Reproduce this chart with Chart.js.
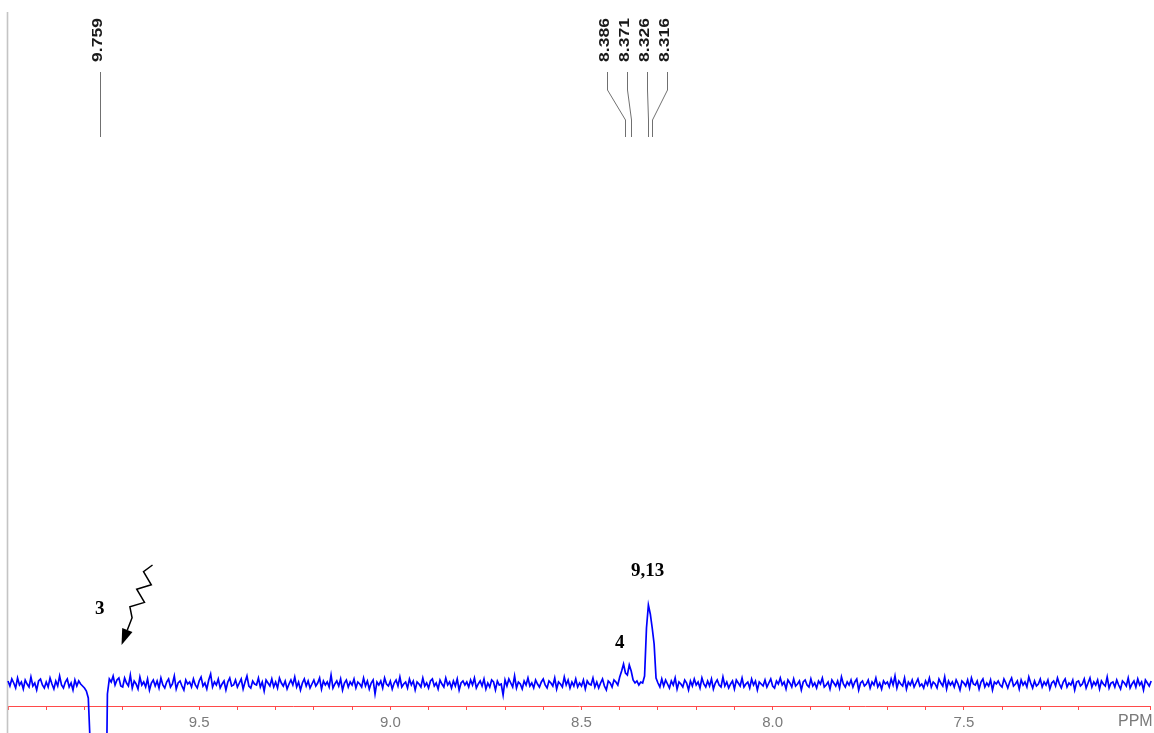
<!DOCTYPE html>
<html>
<head>
<meta charset="utf-8">
<script src="https://cdn.jsdelivr.net/npm/chart.js@4.4.1/dist/chart.umd.min.js"></script>
<style>
  html, body { margin: 0; padding: 0; background: #ffffff; }
  #wrap { width: 1154px; height: 733px; }
</style>
</head>
<body>
<div id="wrap"><canvas id="spectrum" width="1154" height="733"></canvas></div>
<script>
// 1H NMR spectrum, 10.0 -> 7.0 ppm window, digitised every 0.005 ppm
const shiftStart = 10.0;
const shiftStep = 0.005;

const intensity = [
  3,-2,5,1,-4,6,-1,2,-5,4,0,-3,7,-2,1,-6,3,5,-1,-4,
  2,-3,6,0,-5,3,-2,8,-1,-4,2,5,-3,1,-6,4,-2,3,0,-2,
  -4,-7,-14,-60,-260,-300,-320,-330,-330,-320,-290,-180,-10,5,2,8,-1,4,6,-2,
  -3,6,1,-2,9,-4,3,0,-5,7,-1,2,-3,5,-6,1,4,-2,3,-4,
  6,-1,-4,2,5,-3,0,8,-5,1,3,-2,-6,4,0,2,-3,5,-1,-4,
  3,7,-2,1,-5,4,10,-3,2,-1,5,-4,0,3,-6,2,6,-2,-1,4,
  -3,1,5,-5,2,8,-2,-4,3,0,-1,6,-3,2,-7,4,1,-2,5,-3,
  2,-4,6,1,-2,3,-5,0,4,-1,7,-3,2,-6,1,5,-2,3,-4,0,
  4,-2,1,6,-5,3,-1,2,-3,9,-4,0,3,-2,5,-6,1,4,-3,2,
  -1,5,-4,2,0,-3,6,-2,3,-5,1,4,-10,2,-1,3,-4,6,0,-2,
  3,-5,1,4,-2,7,-3,0,2,-4,5,-1,3,-6,2,0,-3,6,-2,1,
  -4,3,5,-2,1,-5,4,0,-3,6,-1,2,-4,3,-2,5,-6,1,3,-1,
  2,-3,4,-1,6,-4,0,3,-2,5,-5,1,-3,4,2,-6,3,-1,0,-11,
  4,-2,5,1,-3,8,-4,2,0,-5,3,-1,6,-2,1,-4,4,0,-3,2,
  5,-1,-4,3,1,-2,6,-5,2,0,-3,7,-1,4,-4,2,-2,5,-3,1,
  -2,4,-5,3,0,-1,6,-3,2,-4,1,5,-2,-6,3,1,-3,4,2,-1,
  7,13,20,11,9,19,13,4,1,3,-1,2,1,8,56,79,70,56,40,6,
  1,-3,5,-2,4,0,-4,3,-1,6,-5,2,0,-3,4,1,-6,3,-2,5,
  -1,2,-4,6,0,-3,3,-2,5,-5,1,4,-1,-3,7,-2,2,-4,0,3,
  -5,4,1,-2,6,-3,0,2,-4,5,-1,3,-6,2,0,-2,4,-3,1,5,
  -2,-4,3,0,6,-1,2,-5,4,1,-3,5,-2,0,3,-6,2,4,-1,-3,
  5,-2,1,-4,3,0,6,-3,-1,2,-5,4,1,-2,3,-4,7,0,-3,2,
  -1,4,-3,2,5,-6,1,3,-2,0,4,-4,2,-1,6,-3,1,-5,3,0,
  2,-3,5,-1,8,-4,3,0,-2,6,-5,2,-1,4,-3,1,5,-2,0,-4,
  3,-1,6,-3,2,0,-4,5,1,-2,7,-5,3,-1,2,-3,4,0,-6,3,
  1,-2,4,-4,6,0,-1,3,-5,2,5,-3,1,-2,4,-6,2,0,3,-1,
  -3,5,1,-4,2,6,-2,0,3,-5,4,-1,2,-3,7,1,-4,3,-2,0,
  5,-3,2,-1,4,-5,1,3,-2,6,0,-4,2,5,-3,1,-1,4,-6,2,
  3,-2,0,5,-4,1,6,-3,2,-1,4,-5,3,0,-2,7,-4,1,2,-3,
  4,-1,-5,3,1,-2,6,-4,0,3,-3,5,-1,2,-6,4,1,-2,3
];

// labelled chemical-shift ticks
const labelledTicks = [9.5, 9.0, 8.5, 8.0, 7.5];

// picked peaks (ppm) and how they are grouped under the top labels
const peakShifts = [9.759, 8.386, 8.371, 8.326, 8.316];
const peakGroups = [[0], [1, 2, 3, 4]];

// proton assignments: text, position (ppm, intensity)
const assignText = ['3', '4', '9,13'];
const assignShift = [9.760, 8.400, 8.327];
const assignHeight = [75, 41, 113];

// irradiation arrow pointing at the suppressed signal (ppm, intensity)
const arrowTail = [9.622, 119];
const arrowTip = [9.703, 39];

const points = intensity.map((v, i) => ({
  x: +(shiftStart - i * shiftStep).toFixed(3),
  y: v
}));

// left frame line of the plot window
const frameLine = {
  id: 'frameLine',
  beforeDatasetsDraw(chart) {
    const { ctx, chartArea } = chart;
    ctx.save();
    ctx.strokeStyle = '#c4c4c4';
    ctx.lineWidth = 1.6;
    ctx.beginPath();
    ctx.moveTo(chartArea.left - 0.5, chartArea.top);
    ctx.lineTo(chartArea.left - 0.5, chart.height);
    ctx.stroke();
    ctx.restore();
  }
};

// peak-pick labels across the top with their leader lines
const peakLabels = {
  id: 'peakLabels',
  afterDraw(chart) {
    const { ctx, chartArea } = chart;
    const xs = chart.scales.x;
    const top = chartArea.top;
    const yLineTop = top + 60, yBend1 = top + 78, yBend2 = top + 108, yLineEnd = top + 125;
    const spacing = 20;
    ctx.save();
    ctx.font = 'bold 14px "Liberation Sans", Arial, sans-serif';
    ctx.fillStyle = '#1a1a1a';
    ctx.strokeStyle = '#707070';
    ctx.lineWidth = 1;
    peakGroups.forEach(group => {
      const px = group.map(k => xs.getPixelForValue(peakShifts[k]));
      const mean = px.reduce((a, b) => a + b, 0) / px.length;
      group.forEach((k, j) => {
        const lx = mean - (group.length > 1 ? 1.5 : 0) + (j - (group.length - 1) / 2) * spacing;
        // rotated shift value
        ctx.save();
        ctx.translate(lx - 2, top + 28);
        ctx.rotate(-Math.PI / 2);
        ctx.scale(1.25, 1);
        ctx.textAlign = 'center';
        ctx.textBaseline = 'middle';
        ctx.fillText(peakShifts[k].toFixed(3), 0, 0);
        ctx.restore();
        // leader line
        ctx.beginPath();
        ctx.moveTo(Math.round(lx) + 0.5, yLineTop);
        ctx.lineTo(Math.round(lx) + 0.5, yBend1);
        ctx.lineTo(Math.round(px[j]) + 0.5, yBend2);
        ctx.lineTo(Math.round(px[j]) + 0.5, yLineEnd);
        ctx.stroke();
      });
    });
    ctx.restore();
  }
};

// assignment numbers and the zig-zag irradiation arrow
const assignments = {
  id: 'assignments',
  afterDatasetsDraw(chart) {
    const { ctx } = chart;
    const xs = chart.scales.x, ys = chart.scales.y;
    ctx.save();
    ctx.fillStyle = '#000000';
    ctx.font = 'bold 19px "Liberation Serif", "Times New Roman", serif';
    ctx.textAlign = 'center';
    ctx.textBaseline = 'middle';
    assignText.forEach((t, i) => {
      ctx.fillText(t, xs.getPixelForValue(assignShift[i]), ys.getPixelForValue(assignHeight[i]));
    });

    const tx = xs.getPixelForValue(arrowTail[0]), ty = ys.getPixelForValue(arrowTail[1]);
    const px = xs.getPixelForValue(arrowTip[0]), py = ys.getPixelForValue(arrowTip[1]);
    const dx = px - tx, dy = py - ty, L = Math.hypot(dx, dy);
    const ux = dx / L, uy = dy / L, nx = -uy, ny = ux;
    const zigLen = 0.66 * L, zigN = 6, amp = 6;
    const headLen = 16, headHalf = 5.5;
    ctx.strokeStyle = '#000000';
    ctx.lineWidth = 1.5;
    ctx.lineJoin = 'miter';
    ctx.beginPath();
    ctx.moveTo(tx, ty);
    for (let k = 1; k <= zigN; k++) {
      const s = k * zigLen / zigN;
      const o = k === zigN ? 0 : (k % 2 ? amp : -amp);
      ctx.lineTo(tx + ux * s + nx * o, ty + uy * s + ny * o);
    }
    ctx.lineTo(tx + ux * (L - headLen), ty + uy * (L - headLen));
    ctx.stroke();
    ctx.beginPath();
    ctx.moveTo(px, py);
    ctx.lineTo(tx + ux * (L - headLen) + nx * headHalf, ty + uy * (L - headLen) + ny * headHalf);
    ctx.lineTo(tx + ux * (L - headLen) - nx * headHalf, ty + uy * (L - headLen) - ny * headHalf);
    ctx.closePath();
    ctx.fill();
    ctx.restore();
  }
};

// unit caption at the right end of the shift axis
const unitCaption = {
  id: 'unitCaption',
  afterDraw(chart) {
    const { ctx, chartArea } = chart;
    ctx.save();
    ctx.fillStyle = '#7a7a7a';
    ctx.font = '16px "Liberation Sans", Arial, sans-serif';
    ctx.textAlign = 'left';
    ctx.textBaseline = 'top';
    ctx.fillText('PPM', chartArea.right - 32, chartArea.bottom + 8);
    ctx.restore();
  }
};

new Chart(document.getElementById('spectrum'), {
  type: 'line',
  data: {
    datasets: [{
      data: points,
      borderColor: '#0000ff',
      borderWidth: 1.7,
      pointRadius: 0,
      tension: 0,
      clip: false
    }]
  },
  options: {
    responsive: false,
    animation: false,
    layout: { padding: { top: 12, left: 8, right: 0, bottom: 0 } },
    plugins: { legend: { display: false }, tooltip: { enabled: false } },
    scales: {
      x: {
        type: 'linear',
        reverse: true,
        min: 7.013,
        max: 10.0,
        border: { display: true, color: '#ff4a4a', width: 1 },
        grid: { display: true, drawOnChartArea: false, drawTicks: true, tickLength: 4, tickColor: '#ff4a4a', tickWidth: 1 },
        ticks: {
          stepSize: 0.1,
          autoSkip: false,
          maxRotation: 0,
          padding: 4,
          color: '#7a7a7a',
          font: { family: '"Liberation Sans", Arial, sans-serif', size: 15 },
          callback: v => labelledTicks.some(t => Math.abs(t - v) < 1e-6) ? v.toFixed(1) : ''
        },
        afterFit: s => { s.height = 27; }
      },
      y: { display: false, min: -22, max: 672 }
    }
  },
  plugins: [frameLine, peakLabels, assignments, unitCaption]
});
</script>
</body>
</html>
